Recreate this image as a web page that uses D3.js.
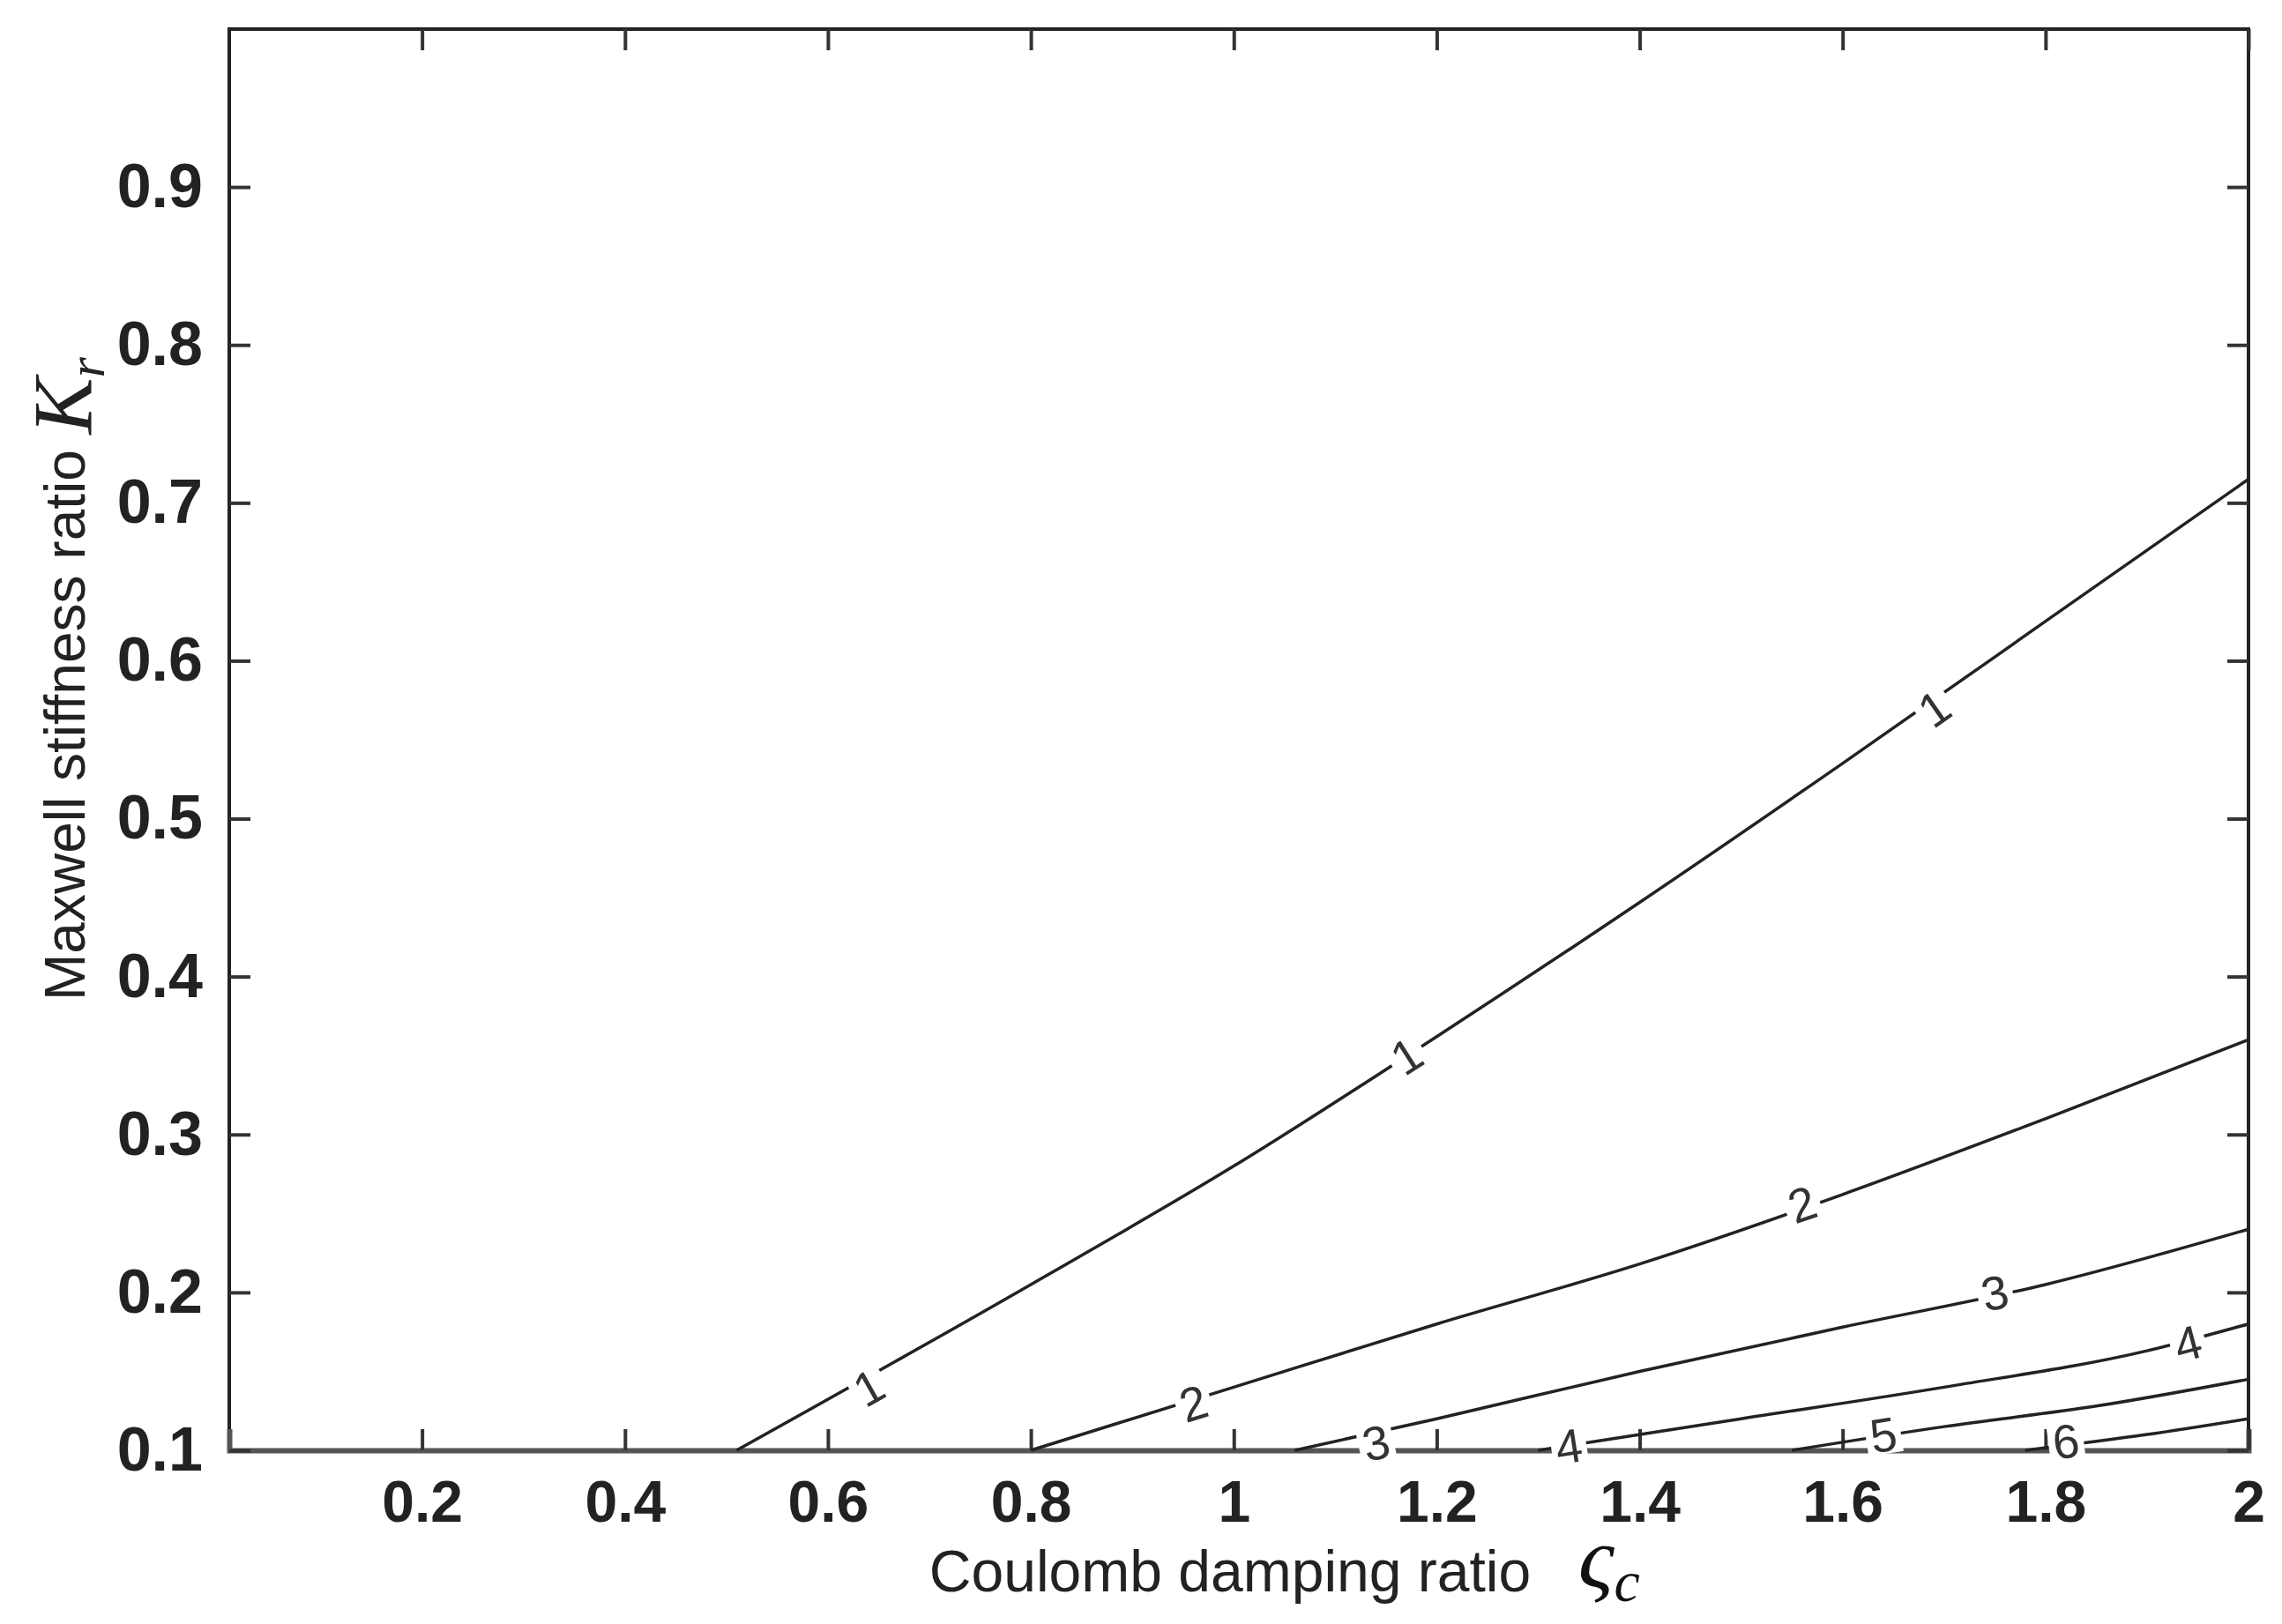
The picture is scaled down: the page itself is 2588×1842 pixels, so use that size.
<!DOCTYPE html>
<html><head><meta charset="utf-8">
<script src="https://cdn.jsdelivr.net/npm/d3@7/dist/d3.min.js"></script>
<style>body{margin:0;background:#fff}</style></head>
<body><svg id="c" width="2588" height="1842"></svg>
<script>
const xTicks=[0.2,0.4,0.6,0.8,1,1.2,1.4,1.6,1.8,2];
const yTicks=[0.1,0.2,0.3,0.4,0.5,0.6,0.7,0.8,0.9];
const c1=[[0.51,0.1],[0.8,0.205],[1.0,0.28],[1.2,0.362],[1.4,0.447],[1.6,0.535],[1.8,0.625],[2,0.715]];
const c2=[[0.8,0.1],[1.0,0.14],[1.2,0.18],[1.4,0.218],[1.6,0.262],[1.8,0.31],[2,0.36]];
const c3=[[1.06,0.1],[1.2,0.12],[1.4,0.15],[1.6,0.178],[1.8,0.205],[2,0.24]];
const c4=[[1.3,0.1],[1.5,0.12],[1.7,0.14],[1.9,0.163],[2,0.18]];
const c5=[[1.55,0.1],[1.7,0.115],[1.85,0.128],[2,0.145]];
const c6=[[1.78,0.1],[1.9,0.11],[2,0.12]];
const contours=[c1,c2,c3,c4,c5,c6];
const labels=[[1,0.64,0.14],[1,1.17,0.35],[1,1.69,0.57],[2,0.96,0.13],[2,1.56,0.256],[3,1.14,0.105],[3,1.75,0.2],[4,1.33,0.103],[4,1.94,0.168],[5,1.64,0.11],[6,1.82,0.106]];
const svg=d3.select("#c");
const L=260,R=2550,T=33,B=1645;
const x=d3.scaleLinear().domain([0.01,2]).range([L,R]);
const y=d3.scaleLinear().domain([0.1,1.0]).range([B,T]);
const g=svg.append("g");
g.append("rect").attr("x",L).attr("y",T).attr("width",R-L).attr("height",B-T).attr("fill","none").attr("stroke","#222").attr("stroke-width",4);
g.append("g").attr("transform",`translate(0,${B})`).call(d3.axisBottom(x).tickValues(xTicks).tickSize(-24).tickPadding(34).tickFormat(d3.format("")))
 .call(a=>{a.select(".domain").attr("stroke-width",6).attr("stroke","#555");a.selectAll("text").attr("font-size",66);});
g.append("g").attr("transform",`translate(0,${T})`).call(d3.axisTop(x).tickValues(xTicks).tickSize(-24).tickFormat(""))
 .call(a=>a.select(".domain").remove());
g.append("g").attr("transform",`translate(${L},0)`).call(d3.axisLeft(y).tickValues(yTicks).tickSize(-24).tickPadding(30).tickFormat(d3.format("")))
 .call(a=>{a.select(".domain").remove();a.selectAll("text").attr("font-size",70);});
g.append("g").attr("transform",`translate(${R},0)`).call(d3.axisRight(y).tickValues(yTicks).tickSize(-24).tickFormat(""))
 .call(a=>a.select(".domain").remove());
g.selectAll(".tick line").attr("stroke","#333").attr("stroke-width",4);
g.selectAll(".tick text").attr("font-family","Liberation Sans, Arial").attr("font-weight","bold").attr("fill","#222");
const line=d3.line().x(d=>x(d[0])).y(d=>y(d[1])).curve(d3.curveMonotoneX);
svg.append("g").selectAll("path").data(contours).join("path").attr("d",line).attr("fill","none").attr("stroke","#222").attr("stroke-width",3.5);
labels.forEach(([lv,lx,ly])=>{
  const cc=contours[lv-1];
  let ang=0;
  for(let i=0;i<cc.length-1;i++){if(lx>=cc[i][0]&&lx<=cc[i+1][0]){ang=Math.atan2(y(cc[i+1][1])-y(cc[i][1]),x(cc[i+1][0])-x(cc[i][0]))*180/Math.PI;}}
  const px=x(lx),py=y(ly);
  const t=svg.append("g").attr("transform",`translate(${px},${py}) rotate(${ang})`);
  t.append("rect").attr("x",-20).attr("y",-22).attr("width",40).attr("height",44).attr("fill","#fff");
  t.append("text").attr("text-anchor","middle").attr("dy","0.36em").attr("font-size",54).attr("font-family","Liberation Sans, Arial").attr("fill","#333").text(lv);
});
svg.append("text").attr("x",1395).attr("y",1805).attr("text-anchor","middle").attr("font-size",66).attr("font-family","Liberation Sans, Arial").attr("fill","#222").text("Coulomb damping ratio");
const xs=svg.append("text").attr("x",1790).attr("y",1800).attr("font-family","Liberation Serif, Times New Roman").attr("font-style","italic").attr("font-size",100).attr("fill","#111");
xs.append("tspan").text("ς");xs.append("tspan").attr("font-size",66).attr("dy",16).text("c");
const yl=svg.append("text").attr("transform","translate(96,770) rotate(-90)").attr("text-anchor","middle").attr("font-size",64).attr("font-family","Liberation Sans, Arial").attr("fill","#222");
yl.append("tspan").text("Maxwell stiffness ratio  ");
yl.append("tspan").attr("font-family","Liberation Serif, Times New Roman").attr("font-style","italic").attr("font-size",96).attr("dy",8).text("K");
yl.append("tspan").attr("font-family","Liberation Serif, Times New Roman").attr("font-style","italic").attr("font-size",60).attr("dy",14).text("r");
</script></body></html>
